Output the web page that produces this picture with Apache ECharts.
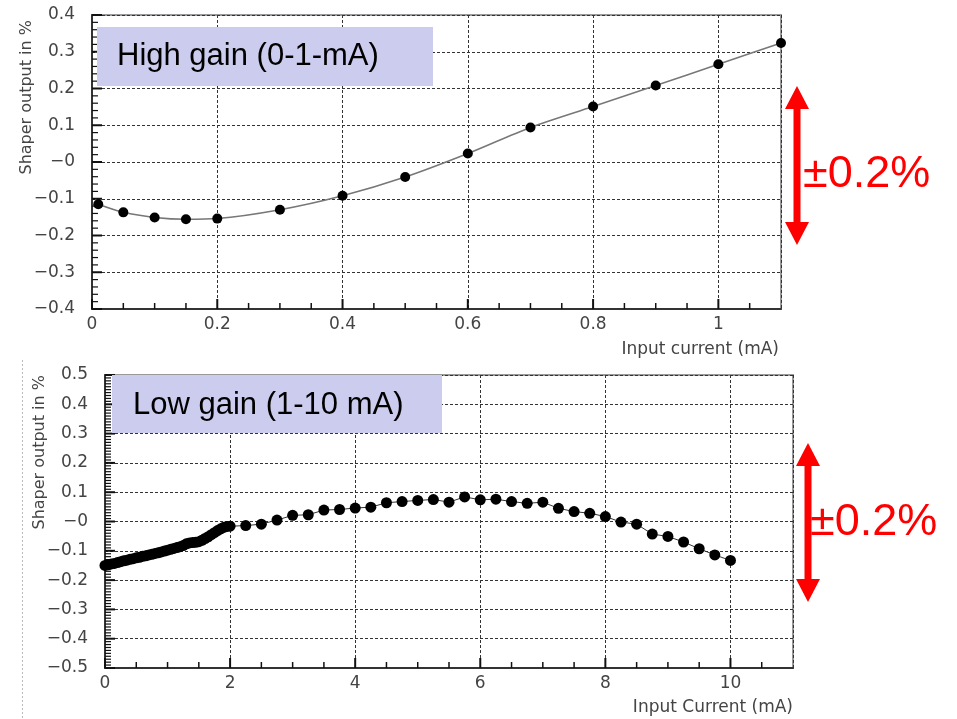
<!DOCTYPE html>
<html>
<head>
<meta charset="utf-8">
<title>Shaper output linearity</title>
<script src="https://cdn.jsdelivr.net/npm/echarts@6/dist/echarts.min.js"></script>
<style>
  html, body { margin: 0; padding: 0; background: #fff; }
  #chart { width: 957px; height: 719px; }
</style>
</head>
<body>
<div id="chart"></div>
<script>
// high gain range, 0 - 1.1 mA
const hgCurrent = [0.01, 0.05, 0.1, 0.15, 0.2, 0.3, 0.4, 0.5, 0.6, 0.7, 0.8, 0.9, 1.0, 1.1];
const hgOutput = [-0.115, -0.137, -0.151, -0.156, -0.154, -0.130, -0.092, -0.041, 0.023, 0.094, 0.151, 0.208, 0.266, 0.324];

// low gain range, 0 - 10 mA (fine steps below 2 mA)
const lgCurrent = [0, 0.05, 0.1, 0.15, 0.2, 0.25, 0.3, 0.35, 0.4, 0.45, 0.5, 0.55, 0.6, 0.65, 0.7, 0.75, 0.8, 0.85, 0.9, 0.95,
  1.0, 1.05, 1.1, 1.15, 1.2, 1.25, 1.3, 1.35, 1.4, 1.45, 1.5, 1.55, 1.6, 1.65, 1.7, 1.75, 1.8, 1.85, 1.9, 1.95, 2.0,
  2.25, 2.5, 2.75, 3.0, 3.25, 3.5, 3.75, 4.0, 4.25, 4.5, 4.75, 5.0, 5.25, 5.5, 5.75, 6.0, 6.25, 6.5, 6.75, 7.0,
  7.25, 7.5, 7.75, 8.0, 8.25, 8.5, 8.75, 9.0, 9.25, 9.5, 9.75, 10.0];
const lgOutput = [-0.150, -0.148, -0.145, -0.143, -0.140, -0.137, -0.134, -0.132, -0.129, -0.127, -0.124, -0.122, -0.119, -0.117, -0.114, -0.112, -0.109, -0.107, -0.104, -0.101,
  -0.098, -0.095, -0.092, -0.089, -0.086, -0.082, -0.076, -0.073, -0.072, -0.071, -0.069, -0.064, -0.058, -0.052, -0.045, -0.038, -0.031, -0.025, -0.020, -0.017, -0.016,
  -0.014, -0.009, 0.005, 0.021, 0.023, 0.039, 0.041, 0.046, 0.049, 0.064, 0.068, 0.072, 0.075, 0.066, 0.084, 0.074, 0.076, 0.068, 0.062, 0.066,
  0.045, 0.034, 0.028, 0.017, -0.002, -0.009, -0.043, -0.051, -0.070, -0.093, -0.114, -0.133];

const titles = ['High gain (0-1-mA)', 'Low gain (1-10 mA)'];
const yTitle = 'Shaper output in %';
const xTitles = ['Input current (mA)', 'Input Current (mA)'];
const bandText = '\u00b10.2%';

const axisFont = 'DejaVu Sans';
const labelColor = '#444';
const tickColor = '#111';

// ROOT-style tick layout per panel: minor step, minor ticks per major, count
const tickSpecs = [
  { grid: 0, lim: 0.4, xStep: 0.05, xEvery: 4, xCount: 22, yStep: 0.02, yEvery: 5, yCount: 40 },
  { grid: 1, lim: 0.5, xStep: 0.5, xEvery: 4, xCount: 22, yStep: 0.01, yEvery: 10, yCount: 100 }
];

const fmtY = v => {
  const r = Math.round(v * 10) / 10;
  if (r === 0) return '\u22120';
  return r < 0 ? '\u2212' + (-r).toFixed(1) : r.toFixed(1);
};

function gridLine() {
  return { show: true, lineStyle: { color: '#333', width: 1, type: [3, 2] } };
}

function makeX(gridIndex, max, interval, fmt) {
  return {
    type: 'value', gridIndex, min: 0, max, interval, position: 'bottom',
    axisLine: { show: true, onZero: false, lineStyle: { color: '#333', width: 2 } },
    axisTick: { show: false },
    axisLabel: { margin: 7, color: labelColor, fontFamily: axisFont, fontSize: 17, formatter: fmt },
    splitLine: gridLine()
  };
}

function makeY(gridIndex, lim) {
  return {
    type: 'value', gridIndex, min: -lim, max: lim, interval: 0.1, position: 'left',
    axisLine: { show: true, onZero: false, lineStyle: { color: '#333', width: 2 } },
    axisTick: { show: false },
    axisLabel: { margin: 17, color: labelColor, fontFamily: axisFont, fontSize: 17, formatter: fmtY },
    splitLine: gridLine()
  };
}

function arrow(cx, top, bottom) {
  const hw = 12, hl = 23, sw = 3.5;
  return {
    type: 'polygon', z: 20,
    shape: { points: [
      [cx, top], [cx + hw, top + hl], [cx + sw, top + hl], [cx + sw, bottom - hl], [cx + hw, bottom - hl],
      [cx, bottom], [cx - hw, bottom - hl], [cx - sw, bottom - hl], [cx - sw, top + hl], [cx - hw, top + hl]
    ] },
    style: { fill: '#ff0000' }
  };
}

const chart = echarts.init(document.getElementById('chart'));

const option = {
  backgroundColor: '#fff',
  animation: false,
  grid: [
    { left: 92, top: 15, width: 689, height: 294, show: true, borderColor: '#999', borderWidth: 2 },
    { left: 105, top: 375, width: 688, height: 293, show: true, borderColor: '#999', borderWidth: 2 }
  ],
  xAxis: [
    makeX(0, 1.1, 0.2, v => {
      const r = Math.round(v * 10) / 10;
      if (r > 1.05) return '';
      return r === 0 || r === 1 ? String(r) : r.toFixed(1);
    }),
    makeX(1, 11, 2, v => (v > 10.5 ? '' : String(Math.round(v))))
  ],
  yAxis: [makeY(0, 0.4), makeY(1, 0.5)],
  series: [
    {
      name: titles[0],
      type: 'line',
      xAxisIndex: 0, yAxisIndex: 0,
      data: hgCurrent.map((x, i) => [x, hgOutput[i]]),
      smooth: 0.3,
      symbol: 'circle', symbolSize: 10,
      itemStyle: { color: '#000' },
      lineStyle: { color: '#777', width: 1.5 },
      z: 5
    },
    {
      name: titles[1],
      type: 'line',
      xAxisIndex: 1, yAxisIndex: 1,
      data: lgCurrent.map((x, i) => [x, lgOutput[i]]),
      symbol: 'circle', symbolSize: 11,
      itemStyle: { color: '#000' },
      lineStyle: { color: '#333', width: 1 },
      z: 5
    }
  ],
  graphic: [
    // page edge on the lower slide half
    { type: 'line', z: 1, shape: { x1: 22.5, y1: 360, x2: 22.5, y2: 719 },
      style: { stroke: '#bbb', lineWidth: 1, lineDash: [2, 2] } },

    // legend boxes
    { type: 'rect', z: 10, shape: { x: 97, y: 27, width: 336, height: 59 }, style: { fill: '#ccccee' } },
    { type: 'text', z: 11, x: 117, y: 56, style: { text: titles[0], fill: '#000', font: '31px "Liberation Sans", Arial, sans-serif', textVerticalAlign: 'middle' } },
    { type: 'rect', z: 10, shape: { x: 112, y: 375, width: 330, height: 58 }, style: { fill: '#ccccee' } },
    { type: 'text', z: 11, x: 133, y: 405, style: { text: titles[1], fill: '#000', font: '31px "Liberation Sans", Arial, sans-serif', textVerticalAlign: 'middle' } },

    // axis titles
    { type: 'text', z: 11, x: 27, y: 20, rotation: Math.PI / 2,
      style: { text: yTitle, fill: labelColor, font: '16px "DejaVu Sans"', textAlign: 'right', textVerticalAlign: 'middle' } },
    { type: 'text', z: 11, x: 40, y: 375, rotation: Math.PI / 2,
      style: { text: yTitle, fill: labelColor, font: '16px "DejaVu Sans"', textAlign: 'right', textVerticalAlign: 'middle' } },
    { type: 'text', z: 11, x: 779, y: 350,
      style: { text: xTitles[0], fill: labelColor, font: '17px "DejaVu Sans"', textAlign: 'right', textVerticalAlign: 'middle' } },
    { type: 'text', z: 11, x: 793, y: 708,
      style: { text: xTitles[1], fill: labelColor, font: '17px "DejaVu Sans"', textAlign: 'right', textVerticalAlign: 'middle' } },

    // +-0.2% band markers
    arrow(797, 86, 245),
    { type: 'text', z: 21, x: 803, y: 175, style: { text: bandText, fill: '#ff0000', font: '45px "Liberation Sans", Arial, sans-serif', textVerticalAlign: 'middle' } },
    arrow(808, 443, 602),
    { type: 'text', z: 21, x: 810, y: 523, style: { text: bandText, fill: '#ff0000', font: '45px "Liberation Sans", Arial, sans-serif', textVerticalAlign: 'middle' } },
    // the slide cuts the lower label off
    { type: 'rect', z: 22, shape: { x: 936, y: 480, width: 21, height: 90 }, style: { fill: '#fff' } }
  ]
};

chart.setOption(option);

// inside ticks, placed through each grid's own scales
function buildTicks() {
  const els = [];
  const seg = (x1, y1, x2, y2, w) => els.push({
    type: 'line', z: 4, silent: true,
    shape: { x1, y1, x2, y2 },
    style: { stroke: tickColor, lineWidth: w }
  });
  tickSpecs.forEach(s => {
    for (let i = 0; i < s.xCount; i++) {
      const p = chart.convertToPixel({ gridIndex: s.grid }, [i * s.xStep, -s.lim]);
      const major = i % s.xEvery === 0;
      seg(p[0], p[1], p[0], p[1] - (major ? 10 : 6), major ? 2 : 1.5);
    }
    for (let j = 0; j <= s.yCount; j++) {
      const p = chart.convertToPixel({ gridIndex: s.grid }, [0, -s.lim + j * s.yStep]);
      const major = j % s.yEvery === 0;
      seg(p[0], p[1], p[0] + (major ? 10 : 6), p[1], major ? 2 : 1.2);
    }
  });
  return els;
}

chart.setOption({ graphic: option.graphic.concat(buildTicks()) });
</script>
</body>
</html>
